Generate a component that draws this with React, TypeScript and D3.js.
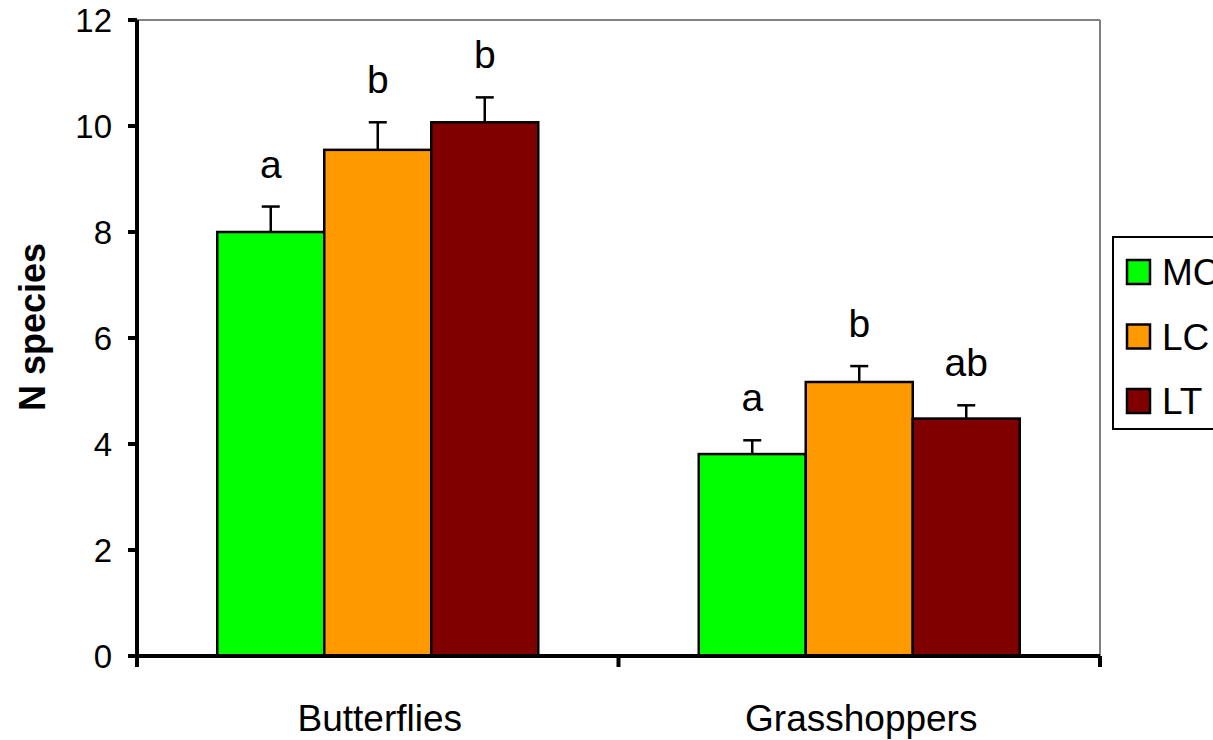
import React from 'react';
import * as d3 from 'd3';

// data
const categories = ['Butterflies', 'Grasshoppers'];
const series = ['MC', 'LC', 'LT'];
const colors = ['#00ff00', '#ff9900', '#800000'];
const meanMC = [8.0, 3.81];
const meanLC = [9.55, 5.17];
const meanLT = [10.07, 4.48];
const seMC = [0.48, 0.26];
const seLC = [0.52, 0.3];
const seLT = [0.47, 0.25];
const lettersMC = ['a', 'a'];
const lettersLC = ['b', 'b'];
const lettersLT = ['b', 'ab'];
const yTicks = [0, 2, 4, 6, 8, 10, 12];

const means = [meanMC, meanLC, meanLT];
const errs = [seMC, seLC, seLT];
const letters = [lettersMC, lettersLC, lettersLT];

const W = 1213;
const H = 740;
const FONT = '"Liberation Sans", Arial, sans-serif';

const App: React.FC = () => {
  const plot = { left: 137, right: 1100, top: 20, bottom: 656 };

  const x0 = d3.scaleBand<string>().domain(categories).range([plot.left, plot.right]);
  const x1 = d3
    .scaleBand<string>()
    .domain(series)
    .range([0, x0.bandwidth()])
    .paddingInner(0)
    .paddingOuter(0.75);
  const y = d3.scaleLinear().domain([0, 12]).range([plot.bottom, plot.top]);

  // x-axis ticks at band boundaries
  const xTickPos = [plot.left, ...categories.map((c) => x0(c)! + x0.bandwidth())];

  return (
    <svg
      width={W}
      height={H}
      style={{ position: 'absolute', left: 0, top: 0, background: '#fff' }}
      fontFamily={FONT}
    >
      {/* plot frame (gray top & right) */}
      <line x1={plot.left} y1={plot.top} x2={plot.right} y2={plot.top} stroke="#808080" strokeWidth={2} />
      <line x1={plot.right} y1={plot.top} x2={plot.right} y2={plot.bottom} stroke="#808080" strokeWidth={2} />

      {/* bars */}
      {categories.map((c, ci) => (
        <g key={c} transform={`translate(${x0(c)},0)`}>
          {series.map((s, si) => {
            const v = means[si][ci];
            const e = errs[si][ci];
            const bx = x1(s)!;
            const bw = x1.bandwidth();
            const cx = bx + bw / 2;
            return (
              <g key={s}>
                <rect
                  x={bx}
                  y={y(v)}
                  width={bw}
                  height={y(0) - y(v)}
                  fill={colors[si]}
                  stroke="#000"
                  strokeWidth={2.5}
                />
                <line x1={cx} x2={cx} y1={y(v)} y2={y(v + e)} stroke="#000" strokeWidth={2.5} />
                <line x1={cx - 9} x2={cx + 9} y1={y(v + e)} y2={y(v + e)} stroke="#000" strokeWidth={2.5} />
                <text x={cx} y={y(v + e) - 29} textAnchor="middle" fontSize={39} fill="#000">
                  {letters[si][ci]}
                </text>
              </g>
            );
          })}
        </g>
      ))}

      {/* y axis */}
      <line x1={plot.left} y1={plot.top} x2={plot.left} y2={plot.bottom} stroke="#000" strokeWidth={4} />
      {yTicks.map((t) => (
        <g key={t}>
          <line x1={plot.left - 9} x2={plot.left} y1={y(t)} y2={y(t)} stroke="#000" strokeWidth={4} />
          <text x={112} y={y(t)} dy="0.35em" textAnchor="end" fontSize={33} fill="#000">
            {t}
          </text>
        </g>
      ))}

      {/* x axis */}
      <line x1={plot.left - 9} y1={plot.bottom} x2={plot.right} y2={plot.bottom} stroke="#000" strokeWidth={4} />
      {xTickPos.map((p, i) => (
        <line key={i} x1={p} x2={p} y1={plot.bottom} y2={plot.bottom + 11} stroke="#000" strokeWidth={4} />
      ))}
      {categories.map((c) => (
        <text key={c} x={x0(c)! + x0.bandwidth() / 2 + 2} y={731} textAnchor="middle" fontSize={37} fill="#000">
          {c}
        </text>
      ))}

      {/* y title */}
      <text
        transform="translate(45,327) rotate(-90)"
        textAnchor="middle"
        fontSize={36}
        fontWeight="bold"
        fill="#000"
      >
        N species
      </text>

      {/* legend */}
      <rect x={1113} y={237} width={140} height={192} fill="#fff" stroke="#000" strokeWidth={2} />
      {series.map((s, i) => (
        <g key={s} transform={`translate(0,${i * 64.5})`}>
          <rect x={1127} y={260} width={23} height={24} fill={colors[i]} stroke="#000" strokeWidth={2.5} />
          <text x={1162} y={285} fontSize={37} fill="#000">
            {s}
          </text>
        </g>
      ))}
    </svg>
  );
};

export default App;
